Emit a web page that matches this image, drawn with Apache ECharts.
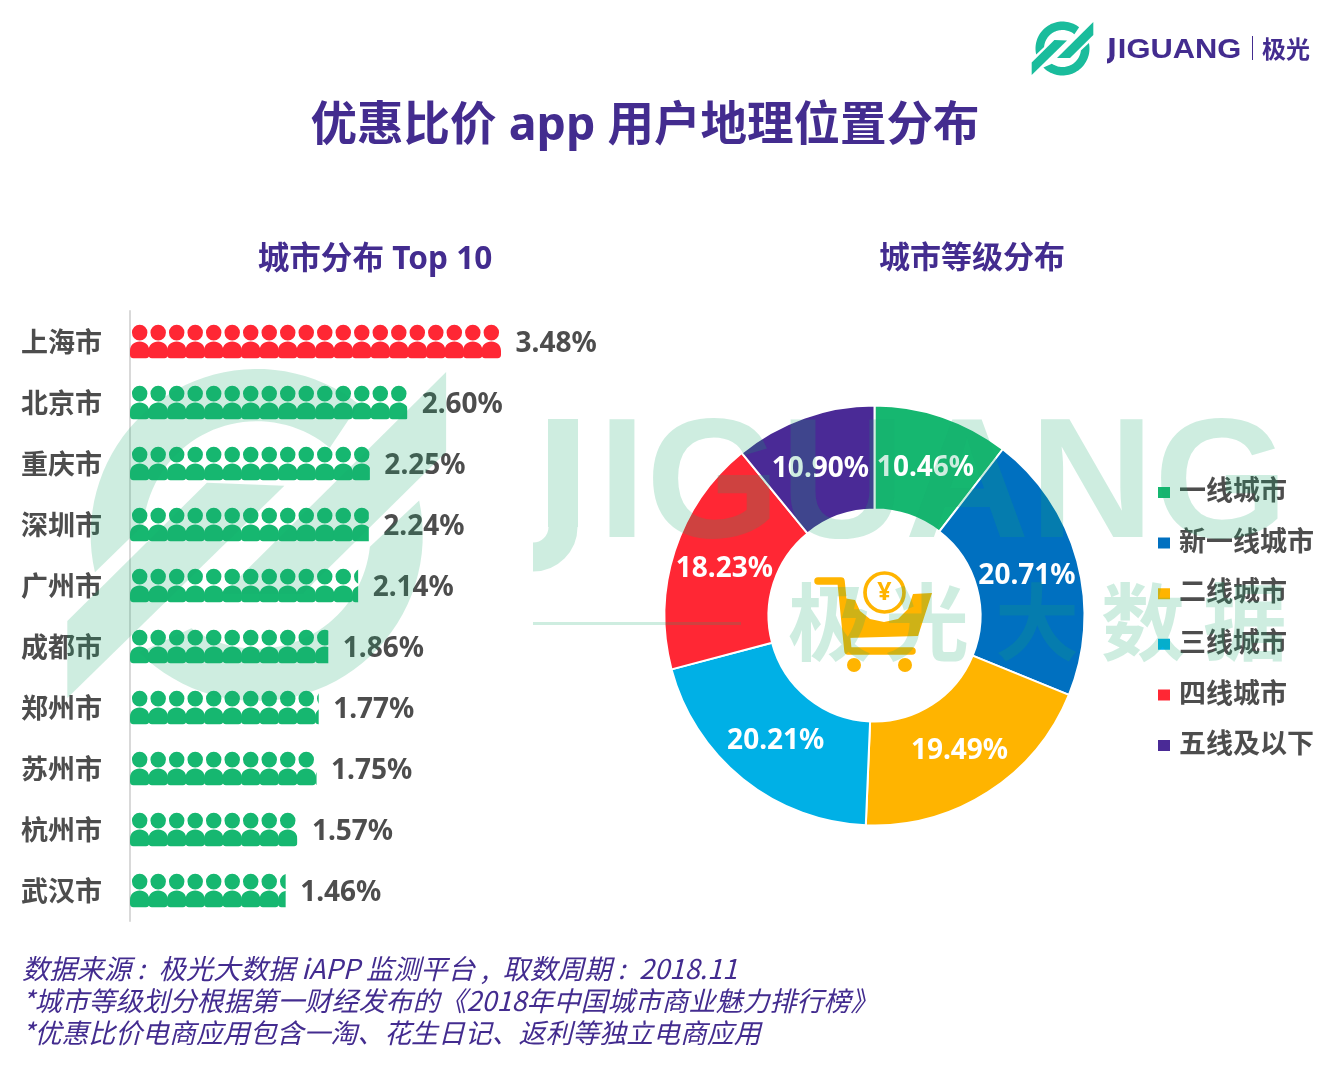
<!DOCTYPE html>
<html lang="zh-CN">
<head>
<meta charset="UTF-8">
<title>优惠比价 app 用户地理位置分布</title>
<script src="https://cdn.jsdelivr.net/npm/echarts@6/dist/echarts.min.js"></script>
<style>html,body{margin:0;padding:0;background:#fff}</style>
</head>
<body>
<div id="main" style="width:1332px;height:1080px;"></div>
<script type="text/javascript">
// data
const cities = ['上海市', '北京市', '重庆市', '深圳市', '广州市', '成都市', '郑州市', '苏州市', '杭州市', '武汉市'];
const cityShares = [3.48, 2.60, 2.25, 2.24, 2.14, 1.86, 1.77, 1.75, 1.57, 1.46];
const tiers = ['一线城市', '新一线城市', '二线城市', '三线城市', '四线城市', '五线及以下'];
const tierShares = [10.46, 20.71, 19.49, 20.21, 18.23, 10.90];
const tierColors = ['#16b770', '#0070c0', '#ffb400', '#00b0e6', '#ff2734', '#4a2a96'];
const footnotes = [
    '数据来源 :\u2002极光大数据 iAPP 监测平台 ,\u2002取数周期 :\u20022018.11',
    '*城市等级划分根据第一财经发布的《2018年中国城市商业魅力排行榜》',
    '*优惠比价电商应用包含一淘、花生日记、返利等独立电商应用'
];

const PURPLE = '#432c8f';
const GRAY = '#4d4d4d';
const GREEN = '#16b770';
const RED = '#ff2734';
const MARK = 'rgba(22,170,110,0.21)';
const FONT = '"Noto Sans","Noto Sans CJK SC",sans-serif';
const PERSON = 'path://M10 0a8 8 0 1 0 .01 0z M0 26.5C0 20.5 4.5 17 10 17S20 20.5 20 26.5V30.5C20 32.8 18.8 34 16.5 34H3.5C1.2 34 0 32.8 0 30.5Z';
// nudges so the pie labels land where the reference has them
const pieLabelShift = [[-1, 5], [-3, 2], [-2, 0], [2, 0], [3, 3], [0, 5]];

// ring piece with slanted ends: each end has its own outer and inner angle, so
// it leaves a gap beside the logo stripes and the pale colour does not stack up
function ringPiece(cx, cy, r0, r1, outerFrom, outerTo, innerFrom, innerTo) {
    const pts = [];
    const at = (r, d) => [cx + r * Math.cos(d * Math.PI / 180), cy + r * Math.sin(d * Math.PI / 180)];
    for (let i = 0; i <= 40; i++) pts.push(at(r1, outerFrom + (outerTo - outerFrom) * i / 40));
    for (let i = 40; i >= 0; i--) pts.push(at(r0, innerFrom + (innerTo - innerFrom) * i / 40));
    return pts;
}

// the two-ring logo, used small top right and big as watermark
function logo(x, y, k, color, z) {
    const px = (a, b) => [x + a * k, y + b * k];
    const poly = points => ({ type: 'polygon', z: z, silent: true, style: { fill: color }, shape: { points: points } });
    const cx = x + 31.5 * k, cy = y + 26.5 * k, r0 = 18.5 * k, r1 = 27 * k;
    return [
        poly(ringPiece(cx, cy, r0, r1, 167, 308, 185, 310)),
        poly(ringPiece(cx, cy, r0, r1, -12, 135, 6, 125)),
        poly([px(62.3, 0), px(62.3, 13), px(39, 36), px(26, 36)]),
        poly([px(0.7, 40.5), px(23.4, 18), px(36, 18.5), px(0.7, 53)])
    ];
}

function text(str, x, y, size, color, extra) {
    return {
        type: 'text', silent: true, z: (extra && extra.z) || 20, x: x, y: y,
        style: Object.assign({
            text: str, fontSize: size, fill: color, fontFamily: FONT,
            fontWeight: 'bold', verticalAlign: 'middle'
        }, extra || {})
    };
}

// JIGUANG with the long-tailed J; x is the tail's left end, base the baseline
function wordmark(x, base, k, color, z, stretch) {
    const rest = text('IGUANG', x + 65 * k, base - 49 * k, 170 * k, color, { z: z, fontFamily: '"Liberation Sans",sans-serif' });
    rest.scaleX = stretch;
    return [
        { type: 'rect', z: z, silent: true, shape: { x: x + 15 * k, y: base - 120 * k, width: 30 * k, height: 108 * k }, style: { fill: color } },
        { type: 'arc', z: z, silent: true,
          shape: { cx: x, cy: base - 12 * k, r: 30 * k, startAngle: 0, endAngle: Math.PI / 2 },
          style: { fill: null, stroke: color, lineWidth: 29 * k } },
        rest
    ];
}

const cart = [
    { type: 'polyline', z: 30, silent: true, shape: { points: [[818, 581], [841, 581], [848, 651], [912, 651]] },
      style: { fill: null, stroke: '#ffb400', lineWidth: 7.5, lineCap: 'round', lineJoin: 'round' } },
    { type: 'polygon', z: 30, silent: true,
      shape: { points: [[843, 598], [855, 600], [860, 611], [870, 619], [884, 622], [898, 619], [908, 609], [913, 594], [932, 593], [918, 636], [847, 638]] },
      style: { fill: '#ffb400' } },
    { type: 'circle', z: 30, silent: true, shape: { cx: 854, cy: 665, r: 7 }, style: { fill: '#ffb400' } },
    { type: 'circle', z: 30, silent: true, shape: { cx: 905, cy: 665, r: 7 }, style: { fill: '#ffb400' } },
    { type: 'circle', z: 30, silent: true, shape: { cx: 884.5, cy: 592.5, r: 19.5 }, style: { fill: '#fff', stroke: '#ffb400', lineWidth: 3.7 } },
    text('¥', 884.5, 593, 25, '#ffb400', { align: 'center', z: 31 })
];

// watermark sits over the chart at low alpha
const wmChars = [['极', 830], ['光', 927], ['大', 1037], ['数', 1143], ['据', 1245]];
const watermark = [
    ...logo(63, 372, 6.15, MARK, 40),
    ...wordmark(533, 539, 1, MARK, 40, 1.015),
    ...wmChars.map(c => text(c[0], c[1], 622, 84, MARK, { align: 'center', z: 40, fontFamily: '"Noto Sans CJK SC",sans-serif' })),
    { type: 'rect', z: 40, silent: true, shape: { x: 533, y: 622, width: 208, height: 3 }, style: { fill: MARK } }
];

const header = [
    ...logo(1031, 22, 1, '#1abc9c', 20),
    ...wordmark(1107, 58, 1 / 6, PURPLE, 20, 1.09),
    { type: 'rect', z: 20, silent: true, shape: { x: 1252, y: 36, width: 1, height: 24 }, style: { fill: PURPLE } },
    text('极光', 1262, 49, 24, PURPLE, { fontFamily: '"Noto Sans CJK SC",sans-serif' })
];

const noteSizes = [27.3, 27, 26.9];
const notes = footnotes.map((line, i) => text(line, 22, 969 + i * 32, noteSizes[i], PURPLE, {
    fontStyle: 'italic', fontWeight: 'normal', fontFamily: '"Noto Sans CJK SC",sans-serif'
}));

let myChart = echarts.init(document.getElementById('main'));
myChart.setOption({
    animation: false,
    backgroundColor: '#fff',
    title: [
        { text: '优惠比价 app 用户地理位置分布', left: 640, top: 99, textAlign: 'center',
          textStyle: { fontFamily: FONT, fontSize: 46.5, fontWeight: 'bold', color: PURPLE } },
        { text: '城市分布 Top 10', left: 370, top: 239, textAlign: 'center',
          textStyle: { fontFamily: FONT, fontSize: 31.6, fontWeight: 'bold', color: PURPLE } },
        { text: '城市等级分布', left: 967, top: 239, textAlign: 'center',
          textStyle: { fontFamily: FONT, fontSize: 31, fontWeight: 'bold', color: PURPLE } }
    ],
    grid: { left: 130, top: 311, width: 371, height: 610 },
    xAxis: { type: 'value', min: 0, max: 3.48, show: false },
    yAxis: {
        type: 'category', inverse: true, data: cities,
        axisTick: { show: false },
        axisLine: { lineStyle: { color: '#d9d9d9', width: 2 } },
        // top aligned with a short line box pushes the names just below the row centre
        axisLabel: { margin: 28, verticalAlign: 'top', lineHeight: 5, fontFamily: FONT, fontSize: 27, fontWeight: 'bold', color: GRAY }
    },
    legend: {
        orient: 'vertical', left: 1151, top: 469.5, itemWidth: 14, itemHeight: 13, itemGap: 14.6,
        icon: 'rect', selectedMode: false, data: tiers,
        textStyle: { fontFamily: FONT, fontSize: 27, fontWeight: 'bold', color: GRAY, padding: [0, 0, 0, 3], lineHeight: 36 }
    },
    series: [
        {
            type: 'pictorialBar', silent: true,
            symbol: PERSON, symbolRepeat: true, symbolClip: true,
            symbolSize: [19.35, 33.6], symbolBoundingData: 3.48, symbolMargin: 0,
            data: cityShares.map((v, i) => ({ value: v, itemStyle: { color: i === 0 ? RED : GREEN } }))
        },
        {
            // invisible bars only carry the value labels, the clipped symbols snap theirs
            type: 'bar', silent: true, barGap: '-100%', barWidth: 34,
            itemStyle: { color: 'transparent' },
            data: cityShares,
            label: {
                show: true, position: 'right', distance: 14.5, offset: [0, 2.5],
                formatter: p => p.value.toFixed(2) + '%',
                fontFamily: FONT, fontSize: 28, fontWeight: 'bold', color: GRAY
            }
        },
        {
            type: 'pie', silent: true, center: [874.5, 615.5], radius: [106, 210], startAngle: 90,
            data: tiers.map((t, i) => ({
                name: t, value: tierShares[i], itemStyle: { color: tierColors[i] },
                label: { offset: pieLabelShift[i] }
            })),
            itemStyle: { borderColor: '#fff', borderWidth: 2 },
            label: {
                position: 'inside', formatter: p => p.value.toFixed(2) + '%',
                fontFamily: FONT, fontSize: 28, fontWeight: 'bold', color: '#fff'
            },
            labelLine: { show: false }
        }
    ],
    graphic: [...header, ...cart, ...watermark, ...notes]
});
</script>
</body>
</html>
